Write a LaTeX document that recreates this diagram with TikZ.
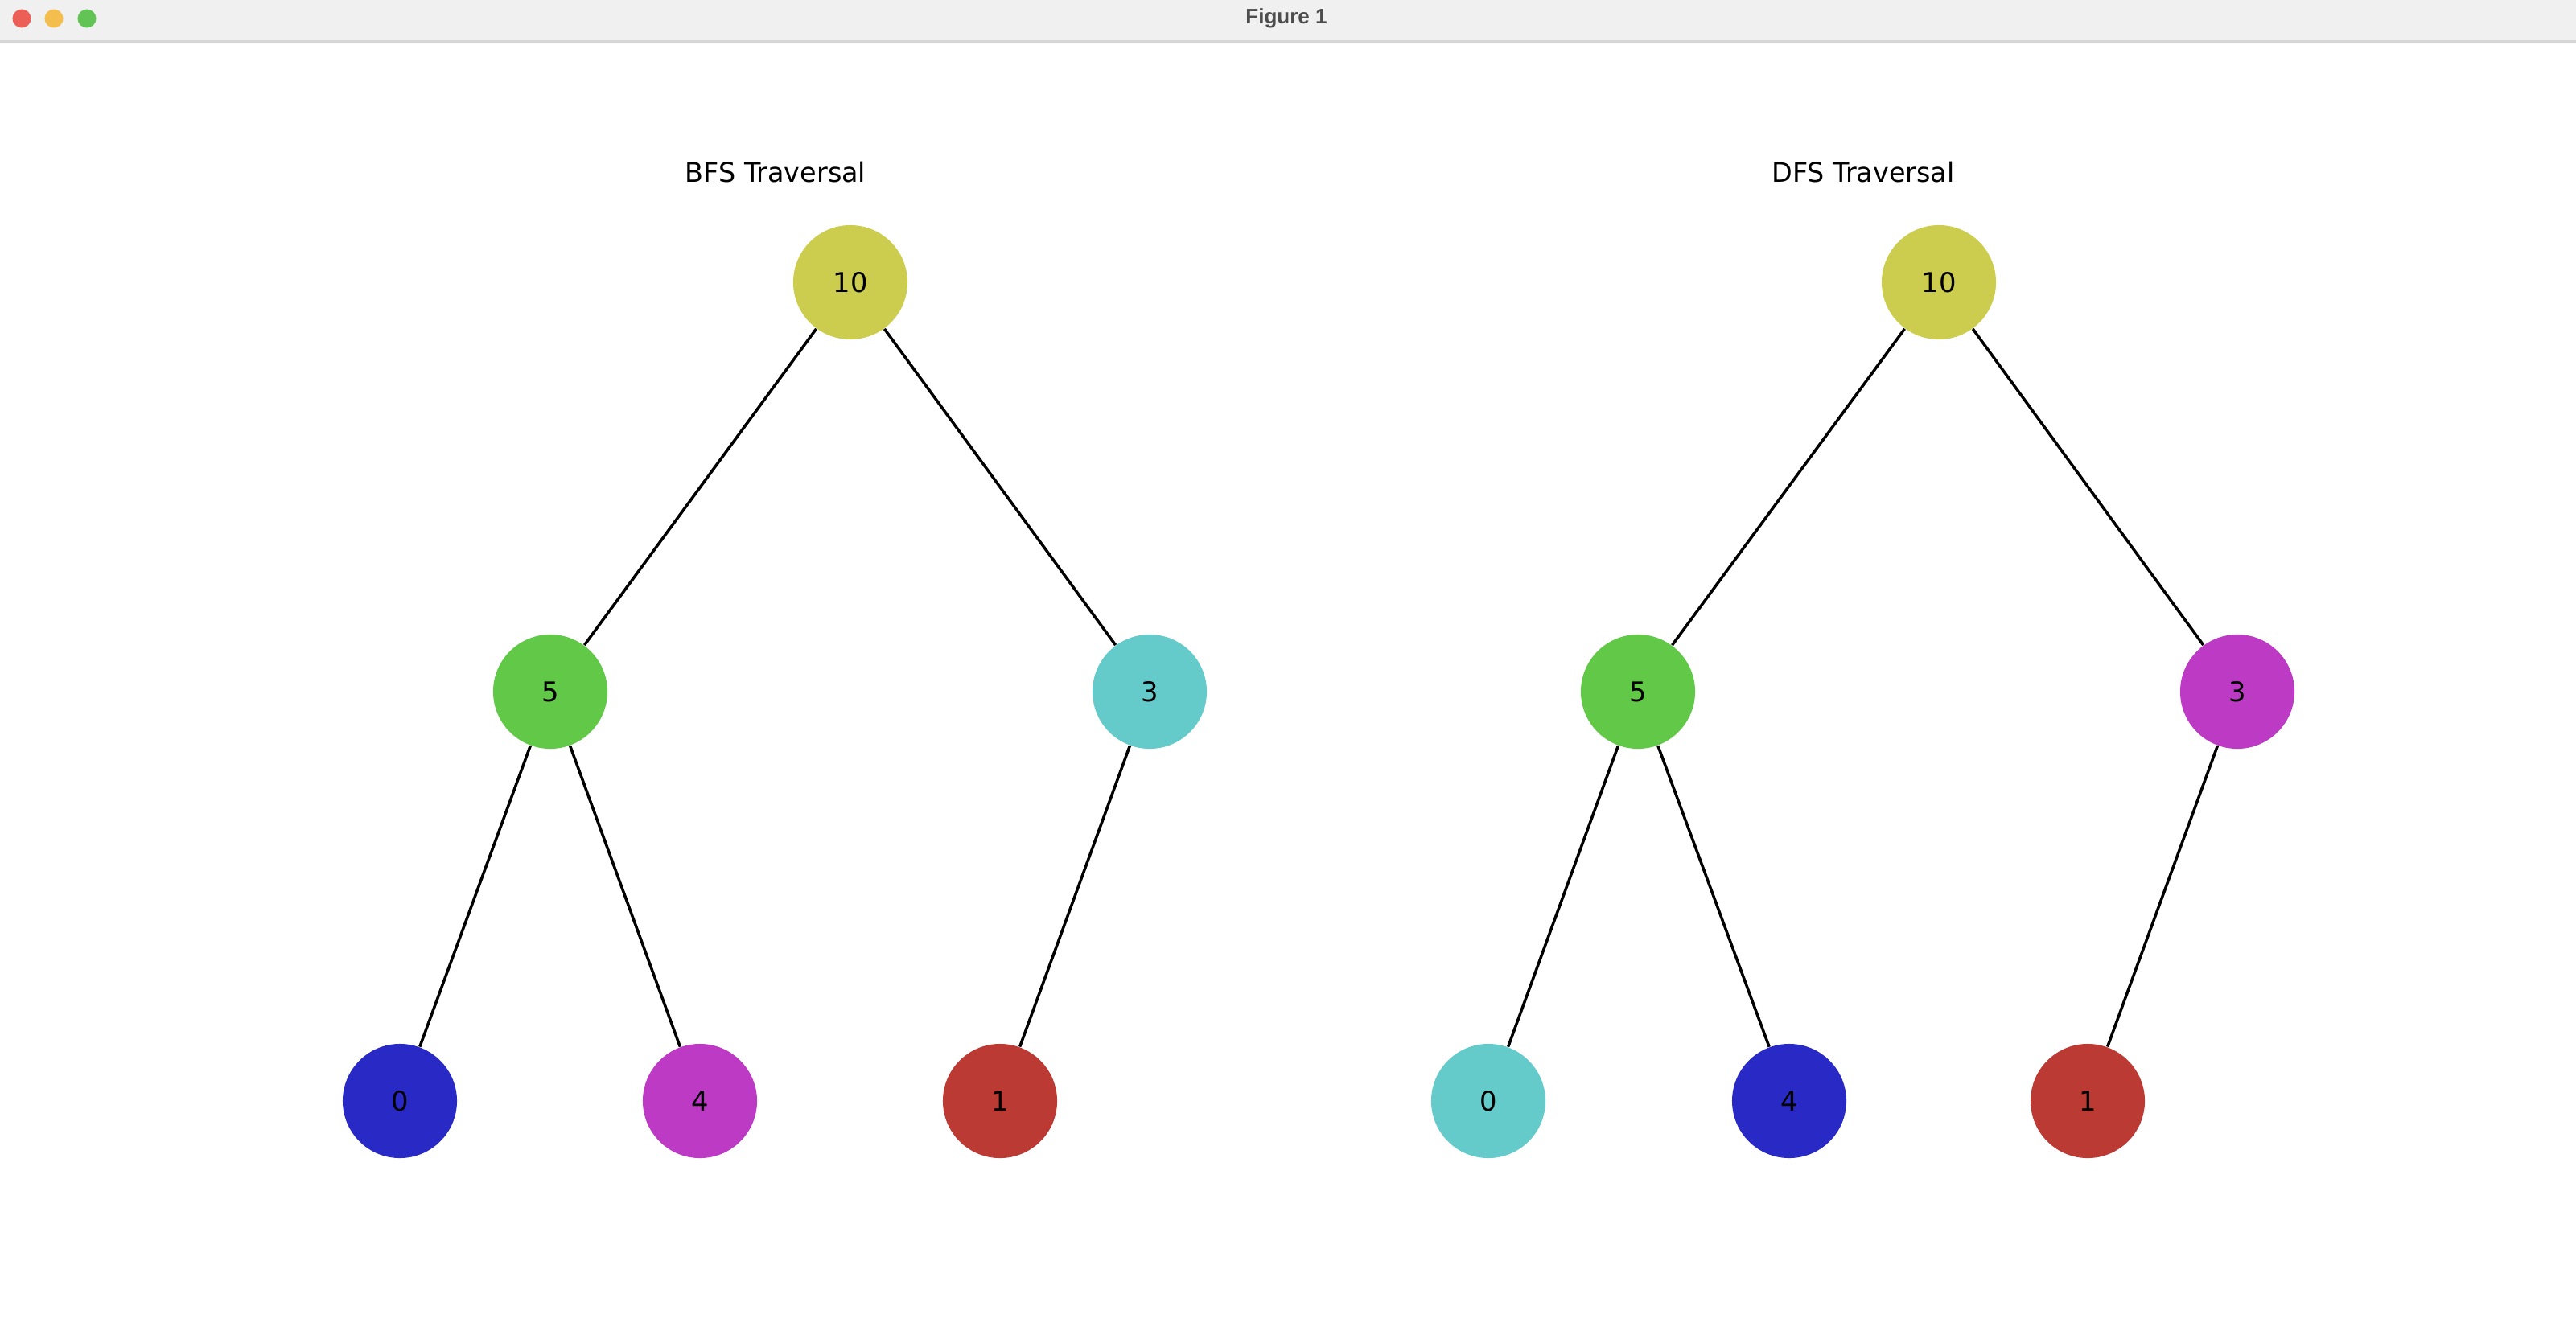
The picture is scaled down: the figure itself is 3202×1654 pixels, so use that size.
\documentclass[tikz,border=0pt]{standalone}
\usepackage{fontspec}
\setmainfont{DejaVu Sans}
\newfontfamily\barfont{Liberation Sans}
\usepackage{tikz}
\usetikzlibrary{positioning}
\usepackage{xcolor}
\definecolor{nodeyellow}{RGB}{204,204,78}
\definecolor{nodegreen}{RGB}{98,201,72}
\definecolor{nodecyan}{RGB}{101,202,202}
\definecolor{nodeblue}{RGB}{41,41,198}
\definecolor{nodemagenta}{RGB}{188,58,196}
\definecolor{nodered}{RGB}{188,58,52}
\definecolor{barbg}{RGB}{240,240,240}
\definecolor{barline}{RGB}{214,214,214}
\definecolor{bartext}{RGB}{77,77,77}
\definecolor{btnred}{RGB}{236,95,87}
\definecolor{btnyellow}{RGB}{244,190,79}
\definecolor{btngreen}{RGB}{98,196,84}

\begin{document}
\begin{tikzpicture}[
    x=0.01cm, y=-0.01cm,
    vertex/.style={circle, minimum size=1.42cm, inner sep=0pt, font=\fontsize{9.6}{11}\selectfont},
    edge/.style={line width=1pt, black},
    plottitle/.style={font=\fontsize{9.5}{11}\selectfont},
    btn/.style={circle, minimum size=0.23cm, inner sep=0pt}
]
    \useasboundingbox (0,0) rectangle (3202,1654);
    % window bar
    \fill[barbg] (0,0) rectangle (3202,52);
    \draw[barline, line width=1pt] (0,52) -- (3202,52);
    \node[btn, fill=btnred] (close) at (27,23) {};
    \node[btn, fill=btngreen] (zoom) at (108,23) {};
    \node[btn, fill=btnyellow] (mini) at (67,23) {};
    \node[font=\barfont\bfseries\fontsize{7.4}{9}\selectfont, text=bartext] (wintitle) at (1599,23) {Figure 1};

    % BFS tree
    \node[plottitle] (bfstitle) at (964,214) {BFS Traversal};
    \node[vertex, fill=nodeyellow] (b10) at (1057,351) {10};
    \node[vertex, fill=nodegreen] (b5) at (684,860) {5};
    \node[vertex, fill=nodecyan] (b3) at (1429,860) {3};
    \node[vertex, fill=nodeblue] (b0) at (497,1369) {0};
    \node[vertex, fill=nodemagenta] (b4) at (870,1369) {4};
    \node[vertex, fill=nodered] (b1) at (1243,1369) {1};

    \draw[edge] (b10) -- (b5);
    \draw[edge] (b10) -- (b3);
    \draw[edge] (b5) -- (b0);
    \draw[edge] (b5) -- (b4);
    \draw[edge] (b3) -- (b1);

    % DFS tree
    \node[plottitle] (dfstitle) at (2316,214) {DFS Traversal};
    \node[vertex, fill=nodeyellow] (d10) at (2410,351) {10};
    \node[vertex, fill=nodegreen] (d5) at (2036,860) {5};
    \node[vertex, fill=nodemagenta] (d3) at (2781,860) {3};
    \node[vertex, fill=nodecyan] (d0) at (1850,1369) {0};
    \node[vertex, fill=nodeblue] (d4) at (2224,1369) {4};
    \node[vertex, fill=nodered] (d1) at (2595,1369) {1};

    \draw[edge] (d10) -- (d5);
    \draw[edge] (d10) -- (d3);
    \draw[edge] (d5) -- (d0);
    \draw[edge] (d5) -- (d4);
    \draw[edge] (d3) -- (d1);
\end{tikzpicture}
\end{document}
